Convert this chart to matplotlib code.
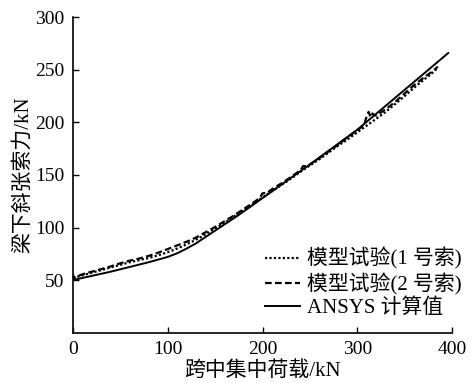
import matplotlib
matplotlib.use("Agg")
import matplotlib.pyplot as plt

plt.rcParams['font.family'] = ['Liberation Serif', 'Noto Sans CJK SC']
plt.rcParams['axes.unicode_minus'] = False

# Series 1: model test (cable 1) - dotted
x_test1 = [0, 10, 20, 30, 40, 50, 60, 70, 80, 90, 100, 110, 120, 130, 140, 150,
           160, 170, 180, 190, 200, 210, 220, 230, 240, 250, 260, 270, 280, 290,
           300, 310, 320, 330, 340, 350, 360, 370, 378, 384]
y_test1 = [52, 54.5, 57, 59.5, 62, 64.5, 67, 69, 71, 73.5, 76.5, 80, 84, 88.5,
           93.5, 99, 104.5, 110.5, 116.5, 122.5, 128.5, 134.5, 140.5, 146.5, 153,
           159, 165, 171.5, 178, 184, 190.5, 197, 203.5, 210, 217.5, 225, 233,
           240.5, 246, 251]

# Series 2: model test (cable 2) - dashed
x_test2 = [0, 0.5, 3, 10, 20, 30, 40, 50, 60, 70, 80, 90, 100, 110, 120, 130,
           140, 150, 160, 170, 180, 190, 197, 200, 205, 210, 220, 230, 240, 243,
           247, 250, 260, 270, 280, 290, 300, 305, 308, 310, 312, 314, 316, 318,
           320, 330, 340, 350, 360, 370, 380, 385]
y_test2 = [56, 52, 53, 55.5, 58, 60.5, 63, 66, 68.5, 70.5, 73, 76, 79.5, 83, 86.5,
           90.5, 95.5, 100.5, 106, 111.5, 117.5, 123.5, 128, 132.5, 133, 136.5,
           142, 148, 154.5, 158.5, 158, 160, 166, 172.5, 179, 186, 192.5, 196,
           200, 206, 210, 205, 208.5, 207, 206.5, 212.5, 219.5, 227.5, 235.5,
           242.5, 249, 253]

# Series 3: ANSYS computed - solid
x_ansys = [0, 20, 40, 60, 80, 100, 110, 120, 130, 140, 150, 175, 200, 225, 250,
           275, 300, 325, 350, 375, 396]
y_ansys = [50, 54, 58, 62.5, 67, 72, 75.5, 80, 85, 91, 97, 112, 128, 144, 160,
           176.5, 193, 212, 231, 250, 266]

labels = ['模型试验(1 号索)', '模型试验(2 号索)', 'ANSYS 计算值']
x_ticks = [0, 100, 200, 300, 400]
y_ticks = [50, 100, 150, 200, 250, 300]

fig = plt.figure(figsize=(4.72, 3.83), dpi=100)
ax = fig.add_axes([73/472, 1-332.6/383, (452-73)/472, (332.6-17.3)/383])

ax.plot(x_test1, y_test1, color='black', linestyle=(0, (1, 1)), linewidth=1.6, label=labels[0])
ax.plot(x_test2, y_test2, color='black', linestyle=(0, (3, 1.5)), linewidth=1.6, label=labels[1])
ax.plot(x_ansys, y_ansys, color='black', linestyle='-', linewidth=1.4, label=labels[2])

ax.set_xlim(0, 400)
ax.set_ylim(0, 300)
ax.set_xticks(x_ticks)
ax.set_yticks(y_ticks)
ax.tick_params(direction='in', length=4, width=1, labelsize=14, pad=6)
ax.spines['top'].set_visible(False)
ax.spines['right'].set_visible(False)
for s in ['left', 'bottom']:
    ax.spines[s].set_linewidth(1.2)

ax.set_xlabel('跨中集中荷载/kN', fontsize=15, labelpad=2)
ax.set_ylabel('梁下斜张索力/kN', fontsize=15, labelpad=2)

leg = ax.legend(loc='lower right', bbox_to_anchor=(462/472, 1-318/383),
                bbox_transform=fig.transFigure, frameon=False, fontsize=15,
                handlelength=1.7, handletextpad=0.35, labelspacing=0.15,
                borderaxespad=0, borderpad=0)

fig.savefig('out.png', dpi=100)
